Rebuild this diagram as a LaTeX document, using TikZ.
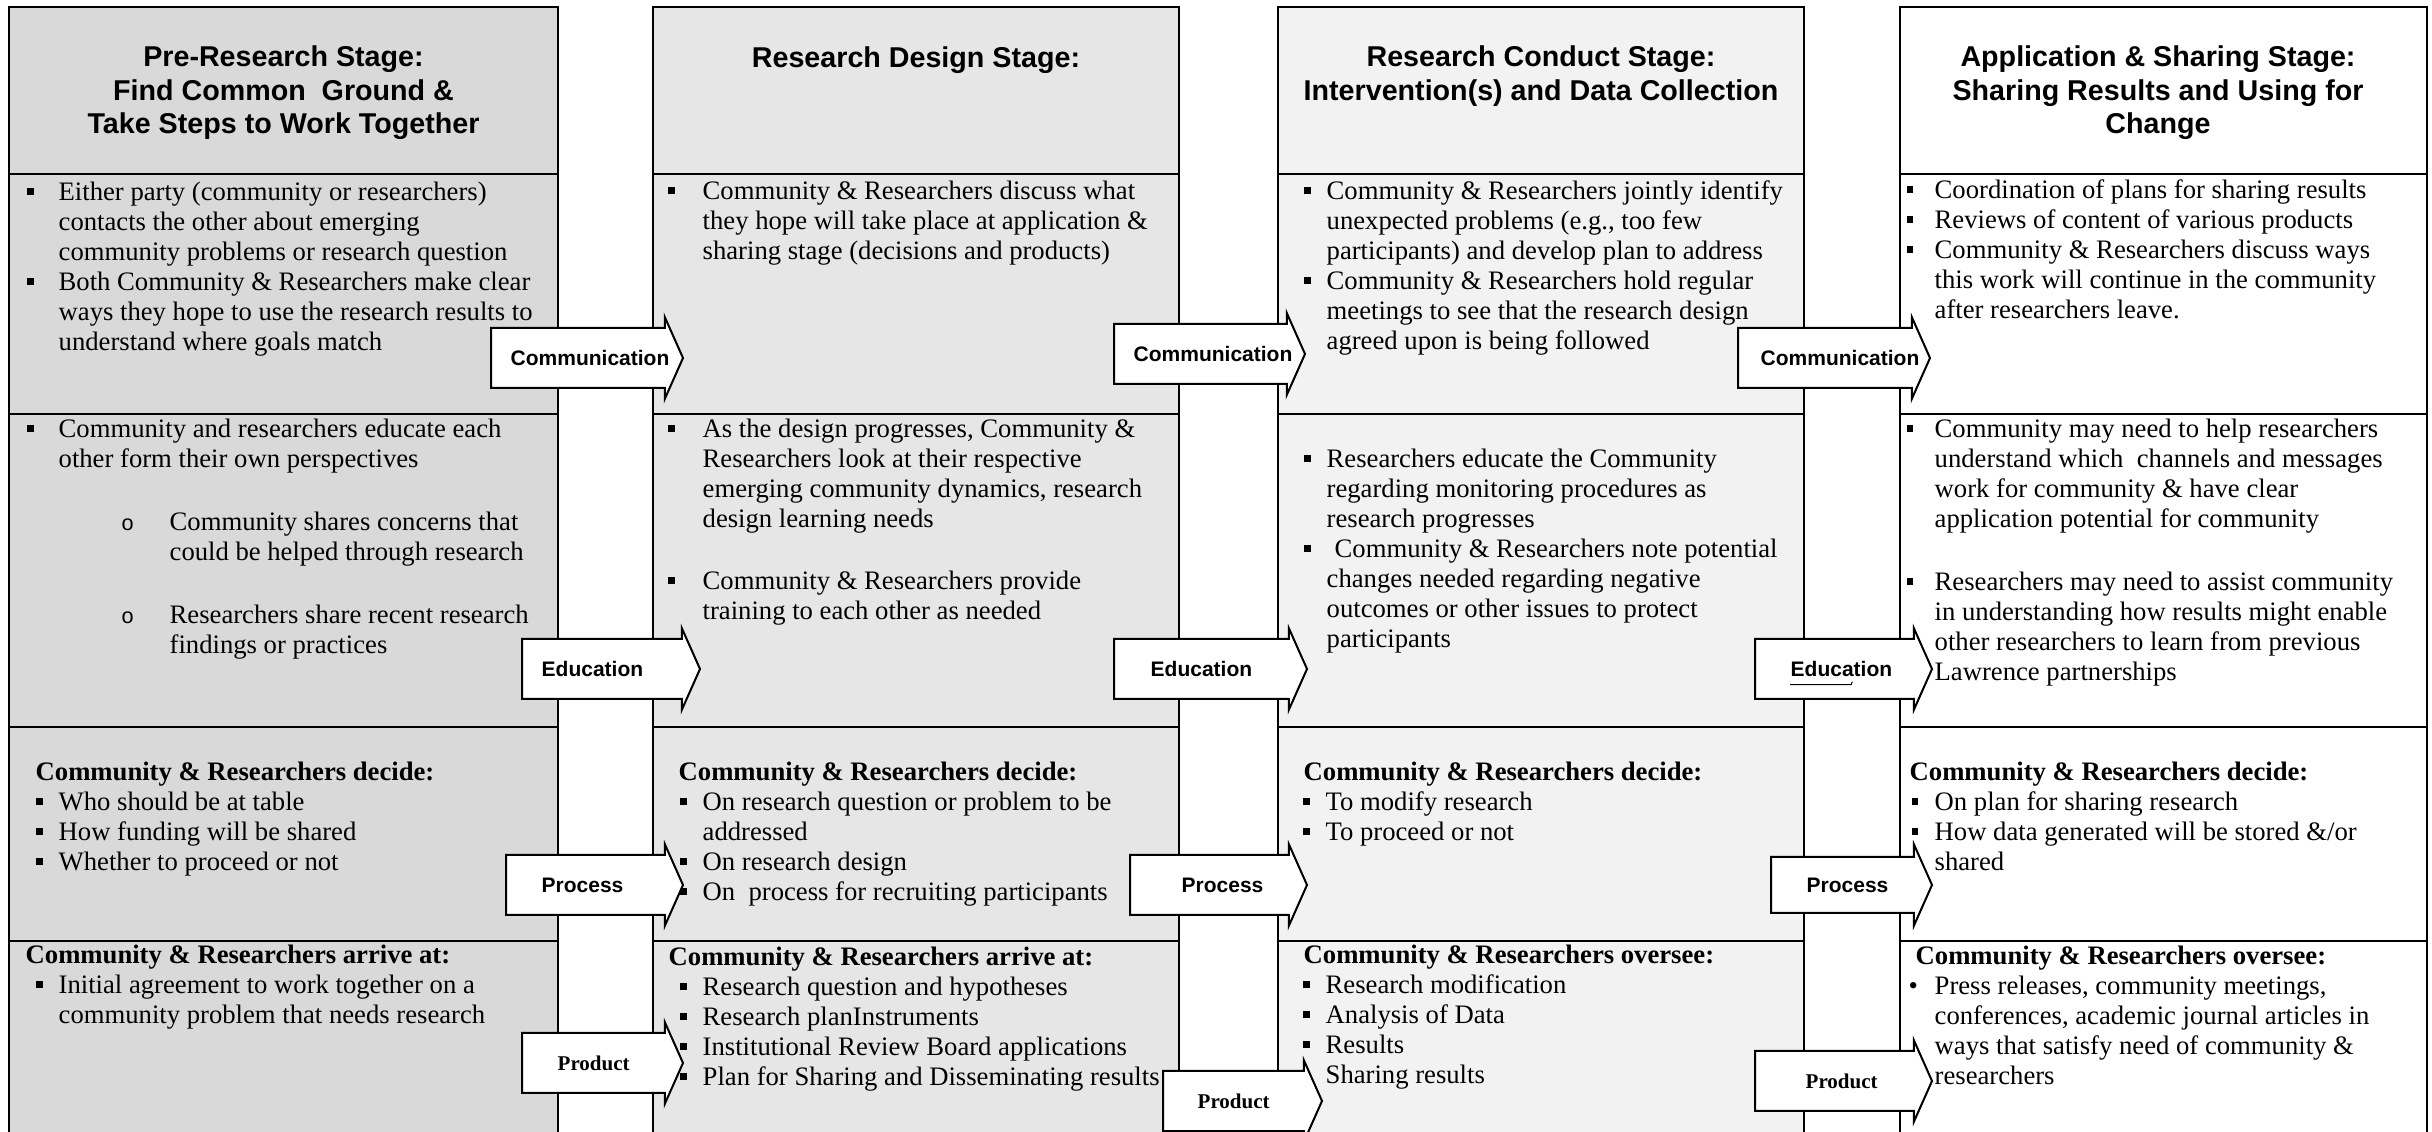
\documentclass[tikz,border=0pt]{standalone}
\usepackage{fontspec}
\setmainfont{Liberation Serif}
\newfontfamily\arialf{Liberation Sans}
\usetikzlibrary{shapes.arrows,positioning}

\definecolor{pregray}{HTML}{D9D9D9}
\definecolor{desgray}{HTML}{E6E6E6}
\definecolor{congray}{HTML}{F2F2F2}

% bullets and row heads inside the cells
\newcommand\sqb[1][4.8pt]{\llap{\rule[1.8pt]{1.9pt}{2.1pt}\hspace{#1}}}
\newcommand\subo{\hspace*{33.3pt}\llap{{\arialf\fontsize{6.5pt}{8pt}\selectfont o}\hspace{10.8pt}}}
\newcommand\subi{\hspace*{33.3pt}}
\newcommand\rowhd[2]{\hspace*{-#1}\textbf{#2}}

\begin{document}
\begin{tikzpicture}[x=0.3pt,y=-0.3pt,
    stage/.style={draw,line width=0.8pt},
    stagehead/.style={anchor=base,inner sep=0pt,font=\arialf\bfseries\fontsize{8.6pt}{10pt}\selectfont},
    cell/.style={anchor=base west,inner sep=0pt,font=\fontsize{8pt}{9pt}\selectfont},
    flow/.style={shape=single arrow,draw,line width=0.6pt,fill=white,anchor=tail,
      single arrow head extend=3.3pt,single arrow tip angle=132,inner xsep=0pt,inner ysep=8.7pt},
    lab/.style={inner sep=0pt,font=\arialf\bfseries\fontsize{6.3pt}{7.5pt}\selectfont},
    prodlab/.style={inner sep=0pt,font=\bfseries\fontsize{6.3pt}{7.5pt}\selectfont}]
  \useasboundingbox (0,0) rectangle (2432,1132);
  \clip (0,0) rectangle (2432,1132);

  % the four stage columns
  \draw[stage,fill=pregray] (9,7) rectangle (558,1160);
  \draw[stage,fill=desgray] (653,7) rectangle (1179,1160);
  \draw[stage,fill=congray] (1278,7) rectangle (1804,1160);
  \draw[stage,fill=white] (1900,7) rectangle (2427,1160);
  \foreach \yy in {174,414,727,941} {
    \draw[stage] (9,\yy) -- (558,\yy);
    \draw[stage] (653,\yy) -- (1179,\yy);
    \draw[stage] (1278,\yy) -- (1804,\yy);
    \draw[stage] (1900,\yy) -- (2427,\yy);
  }

  % stage titles
  \node[stagehead] (h1) at (283.5,67) {\begin{tabular}[t]{@{}c@{}}Pre-Research Stage:\\ Find Common\ \ Ground \&\\ Take Steps to Work Together\end{tabular}};
  \node[stagehead] (h2) at (916,68) {\begin{tabular}[t]{@{}c@{}}Research Design Stage:\end{tabular}};
  \node[stagehead] (h3) at (1541,67) {\begin{tabular}[t]{@{}c@{}}Research Conduct Stage:\\ Intervention(s) and Data Collection\end{tabular}};
  \node[stagehead] (h4) at (2158,67) {\begin{tabular}[t]{@{}c@{}}Application \& Sharing Stage:\\ Sharing Results and Using for\\ Change\end{tabular}};

  % communication row
  \node[cell] (t11) at (58,201) {\begin{tabular}[t]{@{}l@{}}
    \sqb[7.5pt]Either party (community or researchers)\\
    contacts the other about emerging\\
    community problems or research question\\
    \sqb[7.5pt]Both Community \& Researchers make clear\\
    ways they hope to use the research results to\\
    understand where goals match\end{tabular}};
  \node[cell] (t21) at (702,200) {\begin{tabular}[t]{@{}l@{}}
    \sqb[8.4pt]Community \& Researchers discuss what\\
    they hope will take place at application \&\\
    sharing stage (decisions and products)\end{tabular}};
  \node[cell] (t31) at (1326,200) {\begin{tabular}[t]{@{}l@{}}
    \sqb Community \& Researchers jointly identify\\
    unexpected problems (e.g., too few\\
    participants) and develop plan to address\\
    \sqb Community \& Researchers hold regular\\
    meetings to see that the research design\\
    agreed upon is being followed\end{tabular}};
  \node[cell] (t41) at (1934,199) {\begin{tabular}[t]{@{}l@{}}
    \sqb[6.5pt]Coordination of plans for sharing results\\
    \sqb[6.5pt]Reviews of content of various products\\
    \sqb[6.5pt]Community \& Researchers discuss ways\\
    this work will continue in the community\\
    after researchers leave.\end{tabular}};

  % education row
  \node[cell] (t12) at (58,438) {\begin{tabular}[t]{@{}l@{}}
    \sqb[7.5pt]Community and researchers educate each\\
    other form their own perspectives\\[9.9pt]
    \subo Community shares concerns that\\
    \subi could be helped through research\\[9.9pt]
    \subo Researchers share recent research\\
    \subi findings or practices\end{tabular}};
  \node[cell] (t22) at (702,438) {\begin{tabular}[t]{@{}l@{}}
    \sqb[8.4pt]As the design progresses, Community \&\\
    Researchers look at their respective\\
    emerging community dynamics, research\\
    design learning needs\\[9.6pt]
    \sqb[8.4pt]Community \& Researchers provide\\
    training to each other as needed\end{tabular}};
  \node[cell] (t32) at (1326,468) {\begin{tabular}[t]{@{}l@{}}
    \sqb Researchers educate the Community\\
    regarding monitoring procedures as\\
    research progresses\\
    \sqb\hspace{2.4pt}Community \& Researchers note potential\\
    changes needed regarding negative\\
    outcomes or other issues to protect\\
    participants\end{tabular}};
  \node[cell] (t42) at (1934,438) {\begin{tabular}[t]{@{}l@{}}
    \sqb[6.5pt]Community may need to help researchers\\
    understand which\ \ channels and messages\\
    work for community \& have clear\\
    application potential for community\\[9.9pt]
    \sqb[6.5pt]Researchers may need to assist community\\
    in understanding how results might enable\\
    other researchers to learn from previous\\
    Lawrence partnerships\end{tabular}};

  % process row
  \node[cell] (t13) at (58,781) {\begin{tabular}[t]{@{}l@{}}
    \rowhd{6.9pt}{Community \& Researchers decide:}\\
    \sqb Who should be at table\\
    \sqb How funding will be shared\\
    \sqb Whether to proceed or not\end{tabular}};
  \node[cell] (t23) at (702,781) {\begin{tabular}[t]{@{}l@{}}
    \rowhd{7.2pt}{Community \& Researchers decide:}\\
    \sqb On research question or problem to be\\
    addressed\\
    \sqb On research design\\
    \sqb On\ \ process for recruiting participants\end{tabular}};
  \node[cell] (t33) at (1325,781) {\begin{tabular}[t]{@{}l@{}}
    \rowhd{6.6pt}{Community \& Researchers decide:}\\
    \sqb To modify research\\
    \sqb To proceed or not\end{tabular}};
  \node[cell] (t43) at (1934,781) {\begin{tabular}[t]{@{}l@{}}
    \rowhd{7.5pt}{Community \& Researchers decide:}\\
    \sqb[5pt]On plan for sharing research\\
    \sqb[5pt]How data generated will be stored \&/or\\
    shared\end{tabular}};

  % product row
  \node[cell] (t14) at (58,964) {\begin{tabular}[t]{@{}l@{}}
    \rowhd{9.9pt}{Community \& Researchers arrive at:}\\
    \sqb Initial agreement to work together on a\\
    community problem that needs research\end{tabular}};
  \node[cell] (t24) at (702,966) {\begin{tabular}[t]{@{}l@{}}
    \rowhd{10.2pt}{Community \& Researchers arrive at:}\\
    \sqb Research question and hypotheses\\
    \sqb Research planInstruments\\
    \sqb Institutional Review Board applications\\
    \sqb Plan for Sharing and Disseminating results\end{tabular}};
  \node[cell] (t34) at (1325,964) {\begin{tabular}[t]{@{}l@{}}
    \rowhd{6.6pt}{Community \& Researchers oversee:}\\
    \sqb Research modification\\
    \sqb Analysis of Data\\
    \sqb Results\\
    Sharing results\end{tabular}};
  \node[cell] (t44) at (1934,965) {\begin{tabular}[t]{@{}l@{}}
    \rowhd{5.7pt}{Community \& Researchers oversee:}\\
    \llap{\textbullet\hspace{5pt}}Press releases, community meetings,\\
    conferences, academic journal articles in\\
    ways that satisfy need of community \&\\
    researchers\end{tabular}};

  % arrows between the stages
  \node[flow,minimum height=57.6pt] (a1) at (490,358) {};
  \node[lab,right=6pt of a1.tail] (la1) {Communication};
  \node[flow,minimum height=57.3pt] (a2) at (1113,354) {};
  \node[lab,right=6pt of a2.tail] (la2) {Communication};
  \node[flow,minimum height=57.6pt] (a3) at (1737,358) {};
  \node[lab,right=6.9pt of a3.tail] (la3) {Communication};

  \node[flow,minimum height=53.4pt] (b1) at (521,669) {};
  \node[lab,right=6pt of b1.tail] (lb1) {Education};
  \node[flow,minimum height=57.9pt] (b2) at (1113,669) {};
  \node[lab,right=11.1pt of b2.tail] (lb2) {Education};
  \node[flow,minimum height=53.1pt] (b3) at (1754,669) {};
  \node[lab,right=10.8pt of b3.tail] (lb3) {Education};
  \draw[line width=0.3pt] ([yshift=-2.2pt]lb3.south west) -- ++(18.3pt,0) -- ++(0.4pt,0.9pt);

  \node[flow,minimum height=53.1pt] (c1) at (505,885) {};
  \node[lab,right=10.8pt of c1.tail] (lc1) {Process};
  \node[flow,minimum height=53.1pt] (c2) at (1129,885) {};
  \node[lab,right=15.6pt of c2.tail] (lc2) {Process};
  \node[flow,minimum height=48.3pt,inner ysep=8.1pt,single arrow head extend=3.75pt] (c3) at (1770,885) {};
  \node[lab,right=10.8pt of c3.tail] (lc3) {Process};

  \node[flow,minimum height=48.3pt] (d1) at (521,1063) {};
  \node[prodlab,right=10.8pt of d1.tail] (ld1) {Product};
  \node[flow,minimum height=47.7pt] (d2) at (1162,1101) {};
  \node[prodlab,right=10.5pt of d2.tail] (ld2) {Product};
  \node[flow,minimum height=53.1pt] (d3) at (1754,1081) {};
  \node[prodlab,right=15.3pt of d3.tail] (ld3) {Product};
\end{tikzpicture}
\end{document}
